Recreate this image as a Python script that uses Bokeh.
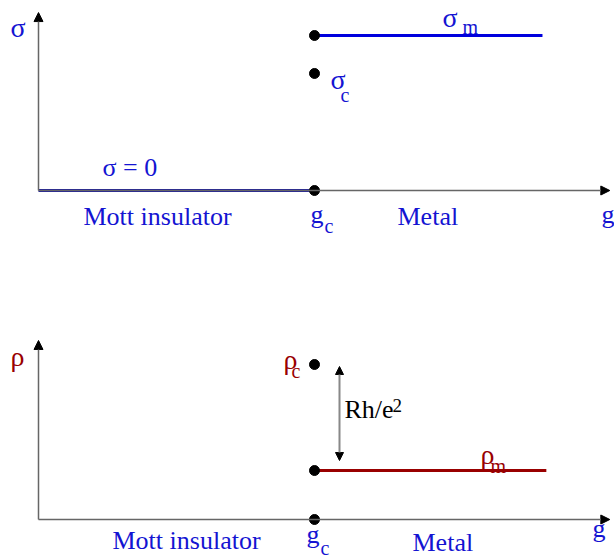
from bokeh.plotting import figure
from bokeh.layouts import column
from bokeh.models import Range1d, Arrow, NormalHead
from bokeh.core.properties import value
from bokeh.embed import file_html
from bokeh.resources import INLINE

# ---- data (schematic values) ----
g_c = 1.0                 # critical coupling
g_axis_end = 2.07         # end of the g axis
g_metal_end_sigma = 1.826 # end of the drawn metal plateau (sigma panel)
g_metal_end_rho = 1.84    # end of the drawn metal plateau (rho panel)

sigma_ins = 0.0           # sigma in the Mott insulator
sigma_c = 0.755           # sigma at g_c
sigma_m = 1.0             # sigma in the metal
sigma_axis_end = 1.148

rho_c = 1.0               # rho at g_c
rho_m = 0.316             # rho in the metal
rho_axis_end = 1.155

# ---- layout constants (pixel mapping) ----
W, H = 614, 279
XS, YS = 276.0, 155.0
X0 = 38.0                 # px of g = 0 inside figure
Y0_TOP = 190.0            # px (from top) of sigma = 0 inside top figure
Y0_BOT = 240.0            # px (from top) of rho = 0 inside bottom figure
BOT_OFF = 279             # page y of bottom figure
TEXT_DY = 8               # correction of text baseline placement

FONT = value("Liberation Serif")
BLUE_T = "#1414d2"
BLUE_L = "#0000dd"
NAVY_L = "#1c1c9c"
RED = "#990000"
AXIS = "#666666"


def make_fig(y0):
    p = figure(width=W, height=H, output_backend="svg", toolbar_location=None,
               x_range=Range1d(-X0 / XS, (W - X0) / XS),
               y_range=Range1d(-(H - y0) / YS, y0 / YS), min_border=0)
    p.axis.visible = False
    p.grid.visible = False
    p.outline_line_color = None
    p.background_fill_color = "white"
    p.border_fill_color = "white"
    return p


def label(p, px, py, s, y0, size="26px", color=BLUE_T):
    off = 0 if y0 == Y0_TOP else BOT_OFF
    x = (px - X0) / XS
    y = (y0 - (py - TEXT_DY - off)) / YS
    p.text(x=[x], y=[y], text=[s], text_font=FONT, text_font_size=size,
           text_color=color, text_baseline="alphabetic", text_align="left")


def axes(p, y_end):
    p.add_layout(Arrow(end=NormalHead(size=9, fill_color="black", line_color="black"),
                       x_start=0, y_start=0, x_end=g_axis_end, y_end=0,
                       line_color=AXIS, line_width=1.5))
    p.add_layout(Arrow(end=NormalHead(size=9, fill_color="black", line_color="black"),
                       x_start=0, y_start=0, x_end=0, y_end=y_end,
                       line_color=AXIS, line_width=1.5))


# ---- top panel: conductivity ----
top = make_fig(Y0_TOP)
axes(top, sigma_axis_end)
top.line([0, g_c], [sigma_ins, sigma_ins], line_color=NAVY_L, line_width=3)
top.line([g_c, g_metal_end_sigma], [sigma_m, sigma_m], line_color=BLUE_L, line_width=3)
top.scatter([g_c, g_c, g_c], [sigma_ins, sigma_c, sigma_m], size=10,
            fill_color="black", line_color="black")

label(top, 10, 35, "σ", Y0_TOP, "28px")
label(top, 442, 25, "σ", Y0_TOP, "28px")
label(top, 462, 34, "m", Y0_TOP, "20px")
label(top, 330, 87, "σ", Y0_TOP, "28px")
label(top, 340, 102, "c", Y0_TOP, "20px")
label(top, 102, 175, "σ = 0", Y0_TOP, "26px")
label(top, 83, 224, "Mott insulator", Y0_TOP, "26px")
label(top, 310, 222, "g", Y0_TOP, "26px")
label(top, 324, 233, "c", Y0_TOP, "20px")
label(top, 397, 224, "Metal", Y0_TOP, "26px")
label(top, 601, 222, "g", Y0_TOP, "26px")

# ---- bottom panel: resistivity ----
bot = make_fig(Y0_BOT)
axes(bot, rho_axis_end)
bot.line([g_c, g_metal_end_rho], [rho_m, rho_m], line_color=RED, line_width=3)
bot.scatter([g_c, g_c, g_c], [0, rho_m, rho_c], size=10,
            fill_color="black", line_color="black")
gap = 2.0 / YS
x_arr = g_c + 25.0 / XS
bot.add_layout(Arrow(start=NormalHead(size=8, fill_color="black", line_color="black"),
                     end=NormalHead(size=8, fill_color="black", line_color="black"),
                     x_start=x_arr, y_start=rho_m + 5 * gap, x_end=x_arr, y_end=rho_c - gap,
                     line_color="#888888", line_width=2))

label(bot, 10, 364, "ρ", Y0_BOT, "28px", RED)
label(bot, 283, 367, "ρ", Y0_BOT, "28px", RED)
label(bot, 291, 378, "c", Y0_BOT, "20px", RED)
label(bot, 480, 462, "ρ", Y0_BOT, "28px", RED)
label(bot, 490, 473, "m", Y0_BOT, "20px", RED)
label(bot, 344, 417, "Rh/e", Y0_BOT, "26px", "black")
label(bot, 392, 413, "2", Y0_BOT, "19px", "black")
label(bot, 112, 548, "Mott insulator", Y0_BOT, "26px")
label(bot, 306, 542, "g", Y0_BOT, "26px")
label(bot, 320, 555, "c", Y0_BOT, "20px")
label(bot, 412, 550, "Metal", Y0_BOT, "26px")
label(bot, 592, 536, "g", Y0_BOT, "26px")

layout = column(top, bot, spacing=0)
open("out.html", "w").write(file_html(layout, INLINE))
